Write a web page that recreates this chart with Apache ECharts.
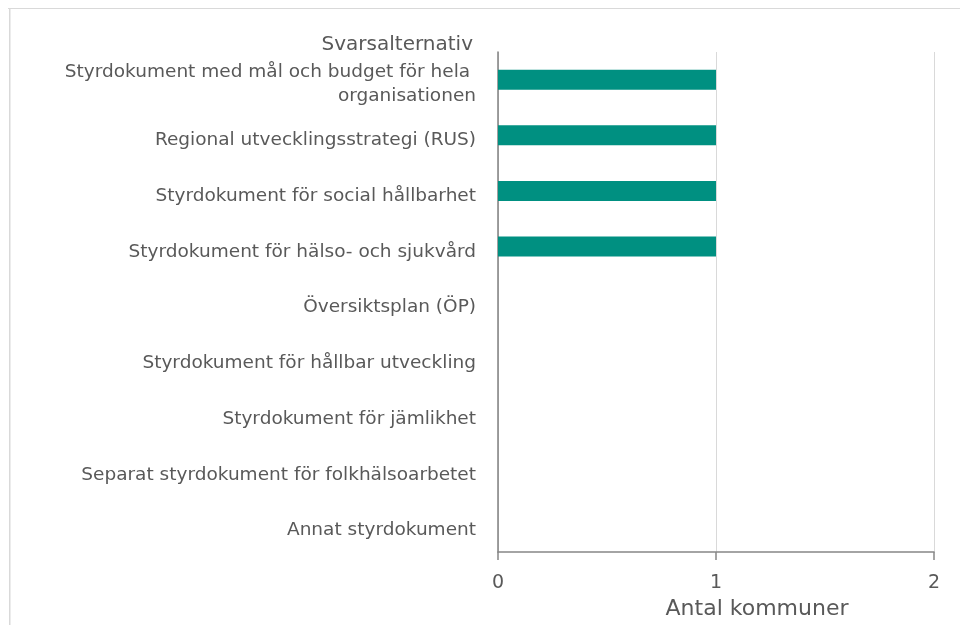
<!DOCTYPE html>
<html>
<head>
<meta charset="utf-8">
<script src="https://cdn.jsdelivr.net/npm/echarts@6/dist/echarts.min.js"></script>
<style>
html,body{margin:0;padding:0;background:#fff;}
#chart{width:960px;height:625px;}
</style>
</head>
<body>
<div id="chart"></div>
<script>
const categories = [
  "Styrdokument med mål och budget för hela organisationen",
  "Regional utvecklingsstrategi (RUS)",
  "Styrdokument för social hållbarhet",
  "Styrdokument för hälso- och sjukvård",
  "Översiktsplan (ÖP)",
  "Styrdokument för hållbar utveckling",
  "Styrdokument för jämlikhet",
  "Separat styrdokument för folkhälsoarbetet",
  "Annat styrdokument"
];
const values = [1, 1, 1, 1, 0, 0, 0, 0, 0];
const xTicks = [0, 1, 2];

const FONT = "'DejaVu Sans', Verdana, sans-serif";
const chart = echarts.init(document.getElementById('chart'), null, {renderer: 'canvas'});
chart.setOption({
  backgroundColor: '#fff',
  animation: false,
  graphic: [
    {type: 'rect', shape: {x: 8, y: 8, width: 960, height: 1}, style: {fill: '#d9d9d9'}, silent: true},
    {type: 'rect', shape: {x: 9, y: 8, width: 1.5, height: 625}, style: {fill: '#d9d9d9'}, silent: true}
  ],
  grid: [
    {left: 498, right: 26, top: 52, bottom: 71},
    {left: 498, right: 26, top: 56.5, bottom: 66.5}
  ],
  xAxis: [{
    type: 'value', gridIndex: 0, min: xTicks[0], max: xTicks[xTicks.length - 1], interval: 1,
    name: 'Antal kommuner', nameLocation: 'middle', nameGap: 46,
    nameTextStyle: {fontFamily: FONT, fontSize: 22, color: '#595959', padding: [0, 0, 0, 82]},
    axisLine: {show: true, lineStyle: {color: '#868686', width: 1.5}},
    axisTick: {show: true, length: 8, lineStyle: {color: '#868686', width: 1.5}},
    axisLabel: {fontFamily: FONT, fontSize: 19, color: '#595959', margin: 22},
    splitLine: {show: true, lineStyle: {color: '#d9d9d9', width: 1}}
  }, {
    type: 'value', gridIndex: 1, min: 0, max: 2, show: false
  }],
  yAxis: [{
    type: 'category', gridIndex: 0, data: categories, inverse: true,
    axisLine: {show: true, lineStyle: {color: '#808080', width: 1.5}},
    axisTick: {show: false},
    axisLabel: {show: false}
  }, {
    type: 'category', gridIndex: 1, data: categories, inverse: true,
    name: 'Svarsalternativ', nameLocation: 'start', nameGap: 2,
    nameTextStyle: {fontFamily: FONT, fontSize: 20, color: '#595959', align: 'right', padding: [0, 25, 0, 0]},
    axisLine: {show: false},
    axisTick: {show: false},
    axisLabel: {fontFamily: FONT, fontSize: 18.5, color: '#595959', margin: 22, width: 430, overflow: 'break', lineHeight: 24}
  }],
  series: [{
    type: 'bar', xAxisIndex: 0, yAxisIndex: 0, data: values, barWidth: 20,
    itemStyle: {color: '#009081'}
  }]
});
</script>
</body>
</html>
